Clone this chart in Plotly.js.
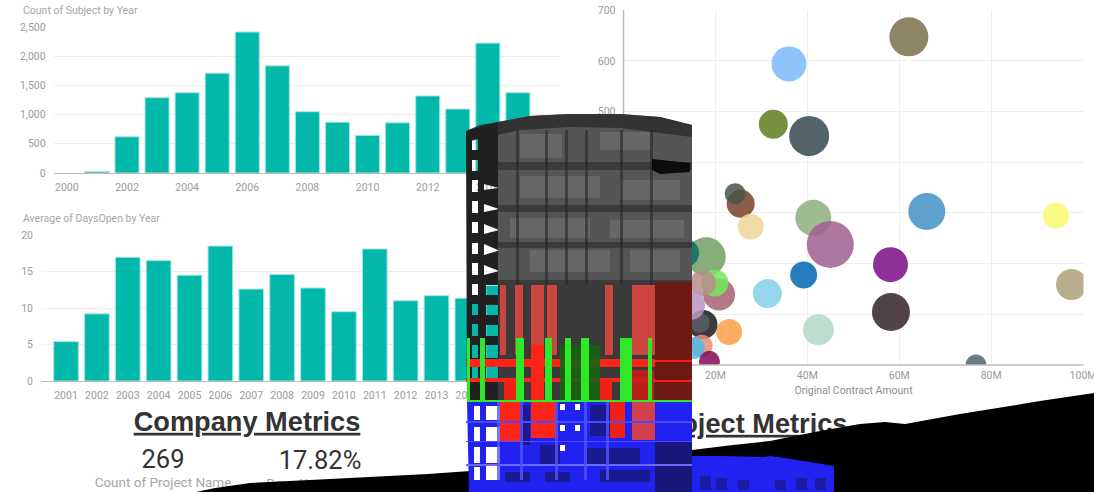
<!DOCTYPE html>
<html><head><meta charset="utf-8">
<script src="https://cdn.plot.ly/plotly-3.0.1.min.js"></script>
<style>html,body{margin:0;padding:0;background:#fff;overflow:hidden}#chart{width:1094px;height:492px}</style>
</head><body><div id="chart"></div>
<script>
// ---------- data ----------
const subjectYears=[2000,2001,2002,2003,2004,2005,2006,2007,2008,2009,2010,2011,2012,2013,2014,2015];
const subjectCounts=[0,25,620,1290,1375,1710,2415,1835,1050,870,645,860,1320,1095,2225,1375];
const daysYears=[2001,2002,2003,2004,2005,2006,2007,2008,2009,2010,2011,2012,2013,2014,2015];
const daysOpen=[5.4,9.2,16.95,16.5,14.5,18.5,12.6,14.6,12.75,9.5,18.1,11,11.7,11.35,13.1];
const contractAmount=[62.1,36,32.6,40.4,25.5,24.3,27.7,41.3,66,94.1,45,18,13.4,39.2,58.1,97.5,31.3,20.8,19.9,17.3,58.2,42.4,23,17.3,16.6,14.5,17,15.3,18.7,76.7];
const bubbleY=[647.5,594,475,452,318,338,273,290.5,303,295,238,213.6,221,177.5,198,159,141,139,162,162,104.5,69.6,65,80,83,118,38,33.5,7.3,0];
const bubbleSize=[39,35,29,40,28,21,26,36,37,26,47,39,28,27,35,31,29,32,27,26,38,31,26,29,20,30,22,22,21,21];
const bubbleColor=['#7A6E4B','#7DB9FB','#5F7D1C','#35484D','#793F2A','#465548','#EDD597','#8DB07F','#4290C4','#F9F971','#9F5F92','#71A064','#0B6F66','#0066AF','#7B0C87','#AFA079','#84CFEA','#A75F70','#73E95A','#BA8C8C','#34222A','#B3D8C8','#FA9F46','#1A1A1A','#5A5D65','#BB94C3','#E68D77','#4FB8E8','#7E0A58','#54656A'];
const countTicks=[0,500,1000,1500,2000,2500];
const daysTicks=[0,5,10,15,20];
const bubbleYTicks=[0,100,200,300,400,500,600,700];
const amountTicks=[0,20,40,60,80,100];
const amountLabels=['0M','20M','40M','60M','80M','100M'];
const kpiText=['<u><b>Company Metrics</b></u>','<u><b>Project Metrics</b></u>','269','17.82%','Count of Project Name','Days Unanswered'];

// ---------- styles ----------
const W=1094,H=492,TEAL='#01B8AA',GRID='#EEEEEE',AX='#BDBDBD',TICK='#9A9A9A';
const FONT='Roboto,"Open Sans",sans-serif';
const dx=(a,b)=>[a/W,b/W], dy=(top,bot)=>[(H-bot)/H,(H-top)/H];
const tf={family:FONT,size:10.5,color:TICK};
const hideAxis={visible:false,fixedrange:true};

const traces=[
 {type:'bar',x:subjectYears,y:subjectCounts,xaxis:'x',yaxis:'y',width:0.8,marker:{color:TEAL,line:{color:'#A9E6E0',width:subjectCounts.map(v=>v>0?1:0)}},hoverinfo:'x+y'},
 {type:'bar',x:daysYears,y:daysOpen,xaxis:'x2',yaxis:'y2',width:0.8,marker:{color:TEAL,line:{color:'#A9E6E0',width:1}},hoverinfo:'x+y'},
 {type:'scatter',mode:'markers',x:contractAmount,y:bubbleY,xaxis:'x3',yaxis:'y3',
  marker:{size:bubbleSize,sizemode:'diameter',color:bubbleColor,opacity:0.85,line:{width:0}}},
 {type:'scatter',mode:'text',xaxis:'x4',yaxis:'y4',hoverinfo:'skip',
  x:[247,750,163,320,163,320],y:[424,426,462,463,484,485],text:kpiText,textposition:'middle center',
  textfont:{family:['Liberation Sans','Liberation Sans','Roboto','Roboto',FONT,FONT],
            size:[27.2,27.2,25.5,25.5,13.5,13.5],
            color:['#333','#333','#333','#333','#A6A6A6','#A6A6A6']}}
];

// ---------- overlay: the building model and black ground that hide part of the dashboard ----------
const s=[];
const P=(path,c,o)=>s.push({type:'path',xref:'x4',yref:'y4',path,fillcolor:c,opacity:o==null?1:o,line:{width:0},layer:'above'});
const R=(a,b,c,d,col,o)=>P(`M${a},${b}L${c},${b}L${c},${d}L${a},${d}Z`,col,o);
const hole=(a,b,c,d)=>`M${a},${b}L${c},${b}L${c},${d}L${a},${d}Z`;
const tri=(a,b,c,d)=>`M${a},${b}L${c},${(b+d)/2+1}L${a},${d}Z`;

// black ground
P('M196,492L215,488L250,483L330,479L428,474L470,471L470,492Z','#000');
P('M692,450L733,445L770,441L820,431L860,424L885,422L905,424L960,414L1010,406L1040,401L1094,393L1094,492L692,492Z','#000');
P('M690,456L720,456L765,457L770,456L785,458L834,466L834,492L690,492Z','#2222F0');
for(const [a,b] of [[700,476],[716,478],[738,480],[775,480],[796,478],[815,478]]) R(a,b,a+11,490,'#1A1A90',0.8);

// grey upper tower
P('M498,122L530,116L570,114L620,114L660,117L692,125L692,300L498,300Z','#555555');
P('M466,131L480,125L498,122L530,116L570,114L620,114L660,117L692,125L692,137L620,128L570,127L520,130L466,142Z','#333333');
for(const [a,b,c,d] of [[498,162,692,170],[498,205,692,212],[498,242,692,248],[498,280,692,292]]) R(a,b,c,d,'#343434',0.8);
for(const [a,b,c,d] of [[520,134,562,158],[600,132,650,150],[520,176,600,198],[620,180,680,200],[510,218,590,238],[610,220,684,238],[530,250,610,272],[630,250,680,272]]) R(a,b,c,d,'#7A7A7A',0.5);
for(const x of [516,545,565,585,620,650]) R(x,130,x+3,300,'#262626',0.6);
P('M652,159L690,163L690,172L660,174L652,170Z','#0C0C0C');
// dark lower body
R(498,285,692,402,'#3A3A3A');
// left dark column with window holes
P('M466,131L498,122L498,402L467,402Z'+
  [[139,150],[160,171],[180,192],[201,213],[222,233],[243,254],[263,275],[284,295],[304,315],[324,336],[345,358],[366,381]].map(v=>hole(472,v[0],478,v[1])).join('')+
  [[184,190],[204,212],[224,234],[244,255],[265,275]].map(v=>tri(484,v[0],499,v[1])).join('')+
  [[285,295],[305,315],[325,336],[345,358],[366,380]].map(v=>hole(486,v[0],499,v[1])).join(''),'#202020');
// red zone
for(const [a,b] of [[500,506],[515,523],[531,544],[547,557],[605,613],[632,640],[640,655]]) R(a,285,b,355,'#F0483F',0.8);
R(531,345,544,402,'#FF2418');
R(655,282,692,445,'#6E1A14');
R(466,359,655,367,'#FF2418');
R(466,378,655,382,'#FF2418');
R(504,382,518,450,'#F12016');R(531,367,544,450,'#FF2418');R(600,380,612,430,'#F12016');R(630,370,654,440,'#C91E16',0.9);
R(655,360,692,362,'#FF1A10');R(655,380,692,382,'#FF1A10');
R(560,345,600,402,'#1B6313',0.9);
// green columns
for(const [a,b] of [[467,470],[480,485],[516,524],[545,552],[565,571],[581,589],[620,632],[648,652]]) R(a,338,b,402,'#2FE82A');
R(467,400,692,402,'#2FE82A');
// blue lower floors with window holes
P('M467,402L692,402L692,492L469,492Z'+
  [[406,420],[427,441],[447,463],[467,480]].map(v=>hole(474,v[0],480,v[1])).join('')+
  [[406,420],[427,441],[447,463],[466,480]].map(v=>hole(486,v[0],500,v[1])).join(''),'#2222F0');
R(500,402,520,442,'#FF2418');R(531,402,556,438,'#FF2418');R(610,402,625,438,'#F12016');R(632,402,655,440,'#E8433A',0.9);
for(const [a,b,c,d] of [[520,405,530,445],[590,405,610,436],[540,445,560,465],[585,448,640,465],[505,472,530,482],[545,472,570,482],[600,470,650,482]]) R(a,b,c,d,'#1A1A90');
R(655,442,692,492,'#18187A');
R(466,421,692,423,'#4A4AFF');R(466,441,692,442,'#4A4AFF');R(466,464,692,466,'#6A6AFF');
for(const x of [497,520,555,584,606]) R(x,402,x+3,480,'#5555FF',0.8);
for(const [a,b] of [[560,404],[575,404],[560,425],[575,425],[560,445]]) R(a,b,a+5,b+6,'#FFFFFF');

const layout={
 width:W,height:H,margin:{l:0,r:0,t:0,b:0},paper_bgcolor:'#fff',plot_bgcolor:'rgba(0,0,0,0)',
 showlegend:false,bargap:0.2,hovermode:'closest',font:{family:FONT,color:TICK},
 xaxis:{domain:dx(53.6,560),range:[1999.56,2016.4],tickvals:[2000,2002,2004,2006,2008,2010,2012,2014],showgrid:false,tickfont:tf,ticks:'',showline:false,zeroline:false,fixedrange:true,anchor:'y',ticklabelstandoff:6},
 yaxis:{domain:dy(27,173),range:[0,2500.5],tickvals:countTicks,tickformat:',d',gridcolor:GRID,tickfont:tf,ticks:'',zeroline:true,zerolinecolor:AX,zerolinewidth:1,showline:false,fixedrange:true,anchor:'x',ticklabelstandoff:7},
 xaxis2:{domain:dx(41,560),range:[2000.19,2017],tickvals:daysYears,showgrid:false,tickfont:tf,ticks:'',showline:false,zeroline:false,fixedrange:true,anchor:'y2',ticklabelstandoff:6},
 yaxis2:{domain:dy(235,381),range:[0,20.01],tickvals:daysTicks,gridcolor:GRID,tickfont:tf,ticks:'',zeroline:true,zerolinecolor:AX,zerolinewidth:1,showline:false,fixedrange:true,anchor:'x2',ticklabelstandoff:7},
 xaxis3:{domain:dx(623.5,1083.5),range:[0,100.1],tickvals:amountTicks,ticktext:amountLabels,gridcolor:GRID,tickfont:tf,ticks:'',zeroline:false,showline:false,fixedrange:true,anchor:'y3',ticklabelstandoff:2,ticklabeloverflow:'allow',
   title:{text:'Original Contract Amount',font:{family:FONT,size:10.5,color:'#8C8C8C'},standoff:6}},
 yaxis3:{domain:dy(10,365),range:[0,700.5],tickvals:bubbleYTicks,gridcolor:GRID,tickfont:tf,ticks:'',zeroline:false,showline:false,fixedrange:true,anchor:'x3',ticklabelstandoff:7,ticklabeloverflow:'allow'},
 xaxis4:Object.assign({domain:[0,1],range:[0,W],anchor:'y4'},hideAxis),
 yaxis4:Object.assign({domain:[0,1],range:[H,0],anchor:'x4'},hideAxis),
 shapes:[
  {type:'line',xref:'x3 domain',yref:'y3 domain',x0:0,x1:0,y0:0,y1:1,line:{color:AX,width:1.5}},
  {type:'line',xref:'x3 domain',yref:'y3 domain',x0:0,x1:1,y0:0,y1:0,line:{color:AX,width:1.5}}
 ].concat(s),
 annotations:[
  {xref:'paper',yref:'paper',x:21/W,y:(H-10)/H,xanchor:'left',yanchor:'middle',showarrow:false,text:'Count of Subject by Year',font:{family:FONT,size:10.5,color:'#A6A6A6'}},
  {xref:'paper',yref:'paper',x:21/W,y:(H-219)/H,xanchor:'left',yanchor:'middle',showarrow:false,text:'Average of DaysOpen by Year',font:{family:FONT,size:10.5,color:'#A6A6A6'}}
 ]
};
Plotly.newPlot('chart',traces,layout,{displayModeBar:false,staticPlot:true});
</script></body></html>
